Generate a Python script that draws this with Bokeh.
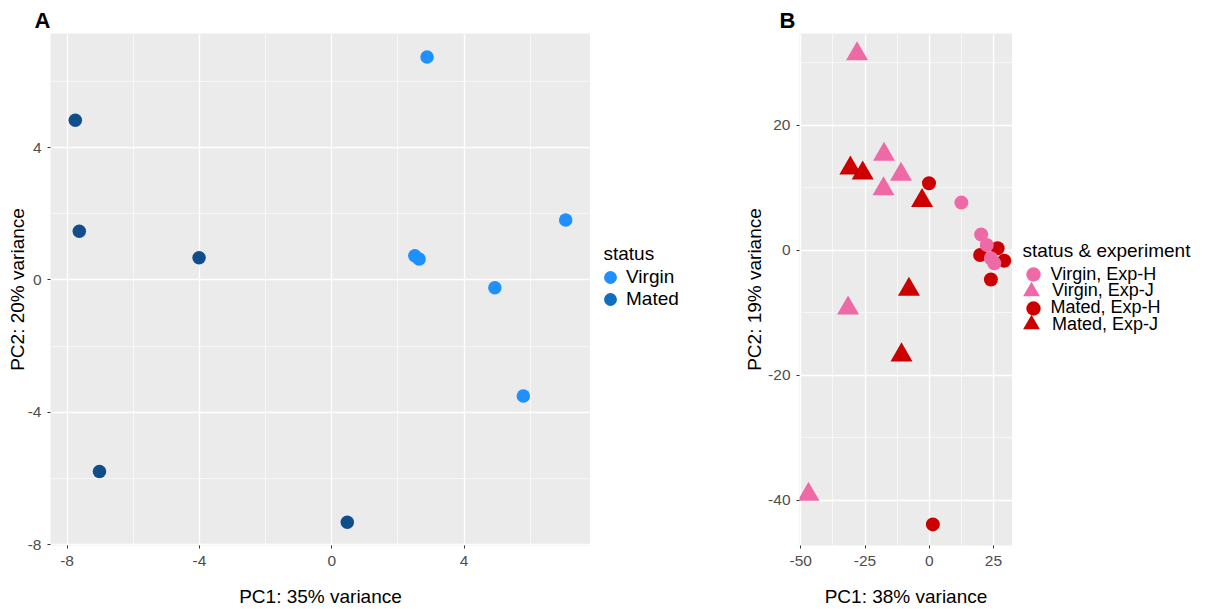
from bokeh.plotting import figure
from bokeh.models import Range1d, FixedTicker, Legend, LegendItem, Label, Title
from bokeh.layouts import row
from bokeh.embed import file_html
from bokeh.resources import INLINE

# ---------------- Panel A data ----------------
a_virgin_pc1 = [2.88, 7.07, 2.51, 2.64, 4.93, 5.79]
a_virgin_pc2 = [6.74, 1.81, 0.73, 0.63, -0.24, -3.51]
a_mated_pc1 = [-7.75, -7.63, -4.01, -7.02, 0.47]
a_mated_pc2 = [4.83, 1.47, 0.67, -5.79, -7.33]
a_ticks = [-8, -4, 0, 4]
a_minor = [-6, -2, 2, 6]
a_labels = ["Virgin", "Mated"]

# ---------------- Panel B data ----------------
b_virgin_h_pc1 = [12.5, 20.2, 22.4, 24.0, 25.3]
b_virgin_h_pc2 = [7.6, 2.5, 0.8, -1.3, -2.1]
b_virgin_j_pc1 = [-28.1, -17.6, -11.0, -17.8, -31.6, -47.0]
b_virgin_j_pc2 = [31.4, 15.3, 12.1, 9.8, -9.3, -39.1]
b_mated_h_pc1 = [-0.1, 26.6, 19.8, 29.2, 24.0, 1.4]
b_mated_h_pc2 = [10.7, 0.3, -0.8, -1.7, -4.7, -43.9]
b_mated_j_pc1 = [-30.7, -25.9, -2.8, -7.9, -10.8]
b_mated_j_pc2 = [13.1, 12.3, 7.9, -6.3, -16.8]
b_xticks = [-50, -25, 0, 25]
b_xminor = [-37.5, -12.5, 12.5]
b_yticks = [-40, -20, 0, 20]
b_yminor = [-30, -10, 10, 30]
b_labels = ["Virgin, Exp-H", "Virgin, Exp-J", "Mated, Exp-H", "Mated, Exp-J"]

FONT = "Liberation Sans"
BLUE_V = "#1E90FF"
BLUE_M = "#104E8B"
BLUE_M_LEG = "#0E6EBF"
PINK = "#EE6AA7"
RED = "#CD0000"
NAN = float("nan")


def style(p, xt, xm, yt, ym, xlab, ylab, ylab_standoff):
    p.background_fill_color = "#EBEBEB"
    p.border_fill_color = "white"
    p.outline_line_color = None
    xtk = FixedTicker(ticks=xt, minor_ticks=xm)
    ytk = FixedTicker(ticks=yt, minor_ticks=ym)
    p.xaxis.ticker = xtk
    p.yaxis.ticker = ytk
    p.xgrid.ticker = xtk
    p.ygrid.ticker = ytk
    p.xaxis.axis_label = xlab
    p.yaxis.axis_label = ylab
    p.xaxis.major_label_overrides = {t: str(t) for t in xt}
    p.yaxis.major_label_overrides = {t: str(t) for t in yt}
    for ax in (p.xaxis[0], p.yaxis[0]):
        ax.axis_line_color = None
        ax.major_tick_line_color = "#333333"
        ax.major_tick_line_width = 1
        ax.major_tick_out = 3
        ax.major_tick_in = 0
        ax.minor_tick_line_color = None
        ax.major_label_text_font = FONT
        ax.major_label_text_font_size = "15.5px"
        ax.major_label_text_color = "#4D4D4D"
        ax.axis_label_text_font = FONT
        ax.axis_label_text_font_size = "19px"
        ax.axis_label_text_font_style = "normal"
        ax.axis_label_text_color = "black"
    p.xaxis.major_label_standoff = 6
    p.yaxis.major_label_standoff = 5
    p.xaxis.axis_label_standoff = 17
    p.yaxis.axis_label_standoff = ylab_standoff
    for g in (p.xgrid[0], p.ygrid[0]):
        g.grid_line_color = "white"
        g.grid_line_width = 1.3
        g.minor_grid_line_color = "white"
        g.minor_grid_line_width = 0.6


def tag(text, offset):
    return Title(text=text, align="left", offset=offset, standoff=1,
                 text_font=FONT, text_font_size="22px",
                 text_font_style="bold", text_color="black")


def legend_fig(width):
    f = figure(width=width, height=609, output_backend="svg",
               toolbar_location=None, x_axis_location=None,
               y_axis_location=None, x_range=Range1d(0, 1),
               y_range=Range1d(0, 1), min_border=0,
               min_border_top=33, min_border_bottom=63)
    f.grid.visible = False
    f.outline_line_color = None
    f.background_fill_color = "white"
    f.border_fill_color = "white"
    return f


def legend_entry(p, label, renderer, g, loc, font_size):
    # one legend per entry so that every key can be placed freely
    lg = Legend(items=[LegendItem(label=label, renderers=[renderer])],
                location=loc, orientation="vertical",
                glyph_width=g, glyph_height=g, label_height=g,
                spacing=0, label_standoff=0,
                padding=0, margin=0, border_line_color=None,
                background_fill_alpha=0,
                label_text_font=FONT, label_text_font_size=font_size,
                label_text_color="black")
    p.add_layout(lg, "center")
    return lg


def leg_title(p, text, x, y):
    p.add_layout(Label(x=x, y=y, x_units="screen", y_units="screen",
                       text=text, text_font=FONT, text_font_size="19px",
                       text_baseline="middle", text_color="black"))


# ---------------- Panel A ----------------
pa = figure(width=590, height=609, output_backend="svg", toolbar_location=None,
            title=tag("A", -16),
            x_range=Range1d(-8.50, 7.82), y_range=Range1d(-8.03, 7.45),
            min_border_left=50, min_border_right=0,
            min_border_top=33, min_border_bottom=63)
style(pa, a_ticks, a_minor, a_ticks, a_minor,
      "PC1: 35% variance", "PC2: 20% variance", -3)
pa.scatter(a_virgin_pc1, a_virgin_pc2, marker="circle", size=13.5,
           fill_color=BLUE_V, line_color=None)
pa.scatter(a_mated_pc1, a_mated_pc2, marker="circle", size=13.5,
           fill_color=BLUE_M, line_color=None)

la = legend_fig(150)
la_v = la.scatter([NAN], [NAN], marker="circle", fill_color=BLUE_V, line_color=None)
la_m = la.scatter([NAN], [NAN], marker="circle", fill_color=BLUE_M_LEG, line_color=None)
legend_entry(la, a_labels[0], la_v, 32, (4, 252), "19px")
legend_entry(la, a_labels[1], la_m, 32, (4, 230), "19px")
leg_title(la, "status", 13, 292)

# ---------------- Panel B ----------------
pb = figure(width=272, height=609, output_backend="svg", toolbar_location=None,
            title=tag("B", -20),
            x_range=Range1d(-50.5, 32.4), y_range=Range1d(-47.28, 34.66),
            min_border_left=59, min_border_right=0,
            min_border_top=33, min_border_bottom=63)
style(pb, b_xticks, b_xminor, b_yticks, b_yminor,
      "PC1: 38% variance", "PC2: 19% variance", 0)
pb.scatter(b_mated_h_pc1, b_mated_h_pc2, marker="circle", size=14,
           fill_color=RED, line_color=None)
pb.scatter(b_mated_j_pc1, b_mated_j_pc2, marker="triangle", size=22,
           fill_color=RED, line_color=None)
pb.scatter(b_virgin_h_pc1, b_virgin_h_pc2, marker="circle", size=14,
           fill_color=PINK, line_color=None)
pb.scatter(b_virgin_j_pc1, b_virgin_j_pc2, marker="triangle", size=22,
           fill_color=PINK, line_color=None)

lb = legend_fig(195)
lb_vh = lb.scatter([NAN], [NAN], marker="circle", fill_color=PINK, line_color=None)
lb_vj = lb.scatter([NAN], [NAN], marker="triangle", fill_color=PINK, line_color=None)
lb_mh = lb.scatter([NAN], [NAN], marker="circle", fill_color=RED, line_color=None)
lb_mj = lb.scatter([NAN], [NAN], marker="triangle", fill_color=RED, line_color=None)
legend_entry(lb, b_labels[0], lb_vh, 36, (2.5, 253), "18px")
legend_entry(lb, b_labels[1], lb_vj, 42, (-2, 233.5), "18px")
legend_entry(lb, b_labels[2], lb_mh, 36, (2.5, 219.5), "18px")
legend_entry(lb, b_labels[3], lb_mj, 42, (-2, 200), "18px")
leg_title(lb, "status & experiment", 10, 295)

layout = row(pa, la, pb, lb, spacing=0)
open("out.html", "w").write(file_html(layout, INLINE))
